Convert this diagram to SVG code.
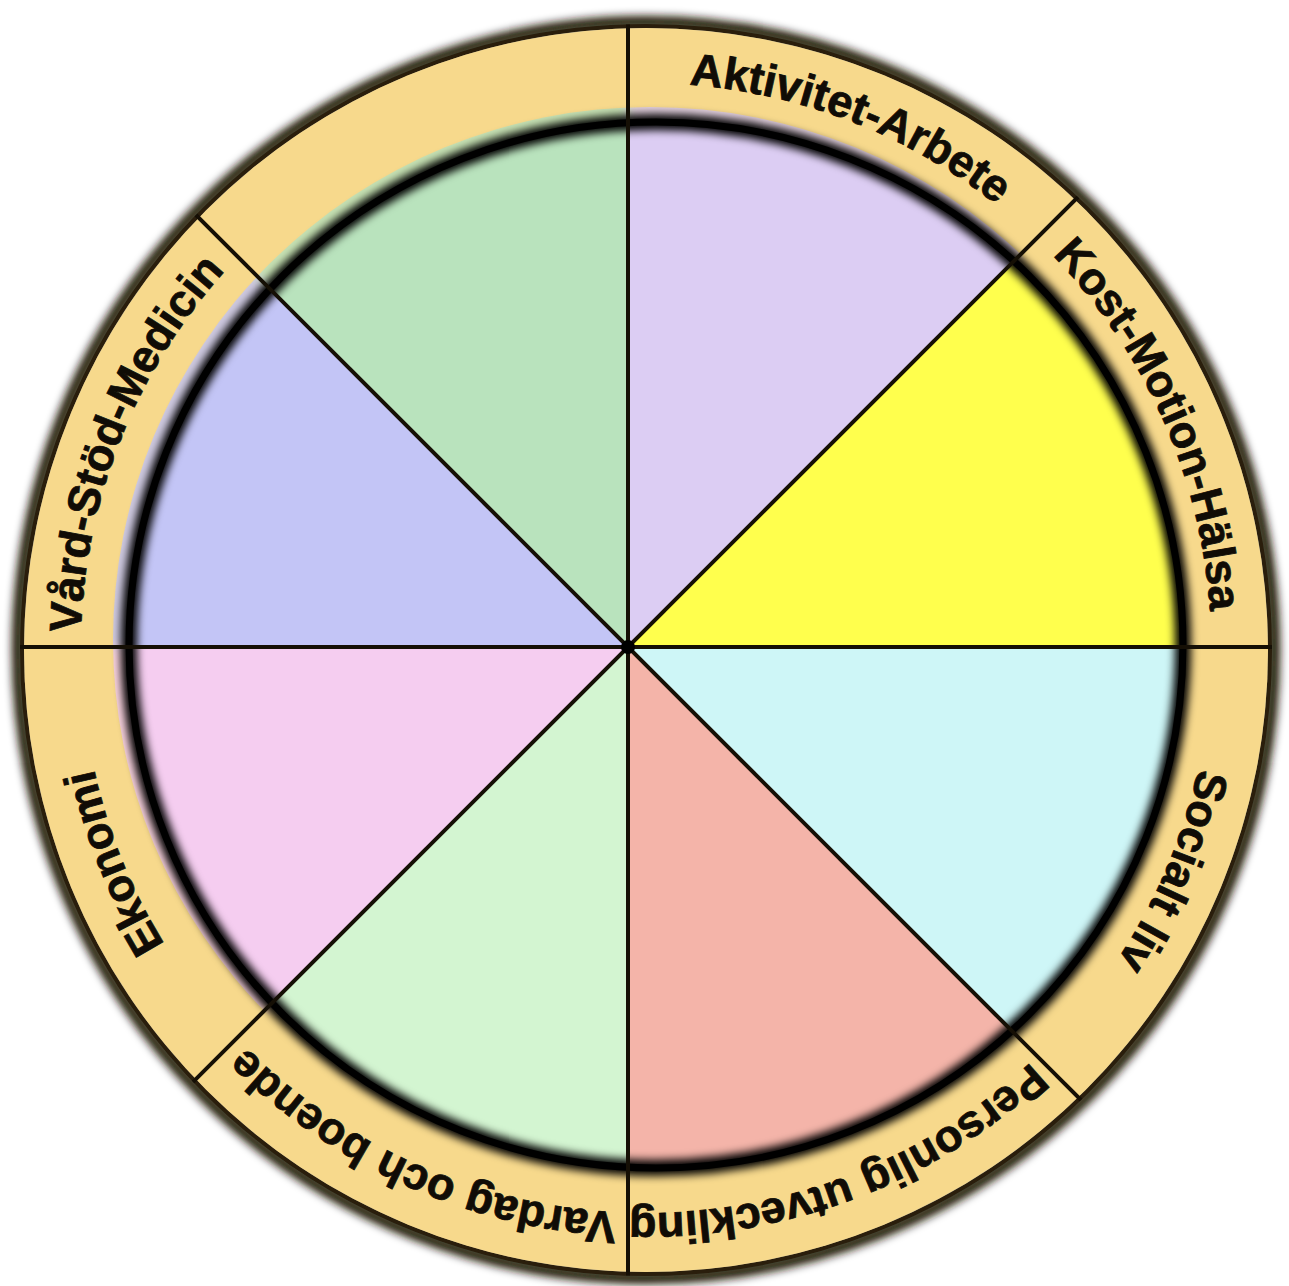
<svg xmlns="http://www.w3.org/2000/svg" xmlns:xlink="http://www.w3.org/1999/xlink" width="1289" height="1286" viewBox="0 0 1289 1286">
<style>
.lbl{font-family:"Liberation Sans",Arial,sans-serif;font-weight:bold;font-size:45px;fill:#100c06;stroke:#100c06;stroke-width:0.8px}
.spoke{stroke:#150f05;stroke-width:4;fill:none}
</style>
<defs>
<filter id="blur3" x="-10%" y="-10%" width="120%" height="120%"><feGaussianBlur stdDeviation="3"/></filter>
<filter id="blur4" x="-10%" y="-10%" width="120%" height="120%"><feGaussianBlur stdDeviation="4"/></filter>
<filter id="blur6" x="-10%" y="-10%" width="120%" height="120%"><feGaussianBlur stdDeviation="6"/></filter>
<clipPath id="inner"><ellipse cx="656" cy="645" rx="527" ry="523"/></clipPath>
<clipPath id="innerHalo"><ellipse cx="650" cy="640" rx="537" ry="533"/></clipPath>
<clipPath id="outer"><circle cx="646" cy="650" r="626"/></clipPath>
<path id="ringpath" d="M 646 83 A 565 565 0 1 1 646 1213 A 565 565 0 1 1 646 83"/>
</defs>
<rect width="1289" height="1286" fill="#ffffff"/>
<!-- outer ring -->
<circle cx="646" cy="650" r="628" fill="none" stroke="#1a1206" stroke-width="12" filter="url(#blur4)"/>
<circle cx="646" cy="650" r="624" fill="none" stroke="#2a1e0c" stroke-width="4"/>
<circle cx="646" cy="650" r="622" fill="#f7d98c"/>
<!-- colored halo -->
<g clip-path="url(#innerHalo)" filter="url(#blur6)" opacity="0.8">
<polygon points="628,647 628,-353 -372,-353" fill="#b9e3bd"/>
<polygon points="628,647 628,-353 1628,-353" fill="#dccdf3"/>
<polygon points="628,647 -372,1647 -372,647" fill="#f5cdf0"/>
<polygon points="628,647 -372,647 -372,-353" fill="#c3c5f6"/>
</g>
<g id="seg-top-left"><polygon clip-path="url(#inner)" points="628,647 628,-353 -372,-353" fill="#b9e3bd"/></g>
<g id="seg-aktivitet">
<polygon clip-path="url(#inner)" points="628,647 628,-353 1628,-353" fill="#dccdf3"/>
<text class="lbl"><textPath href="#ringpath" xlink:href="#ringpath" startOffset="211" text-anchor="middle">Aktivitet-Arbete</textPath></text>
</g>
<g id="seg-kost">
<polygon clip-path="url(#inner)" points="628,647 1628,-353 1628,647" fill="#ffff4d"/>
<text class="lbl"><textPath href="#ringpath" xlink:href="#ringpath" startOffset="652" text-anchor="middle">Kost-Motion-Hälsa</textPath></text>
</g>
<g id="seg-socialt">
<polygon clip-path="url(#inner)" points="628,647 1628,647 1628,1647" fill="#cef6f7"/>
<text class="lbl"><textPath href="#ringpath" xlink:href="#ringpath" startOffset="1114" text-anchor="middle">Socialt liv</textPath></text>
</g>
<g id="seg-personlig">
<polygon clip-path="url(#inner)" points="628,647 1628,1647 628,1647" fill="#f4b4a9"/>
<text class="lbl"><textPath href="#ringpath" xlink:href="#ringpath" startOffset="1572" text-anchor="middle">Personlig utveckling</textPath></text>
</g>
<g id="seg-vardag">
<polygon clip-path="url(#inner)" points="628,647 628,1647 -372,1647" fill="#d3f5d1"/>
<text class="lbl"><textPath href="#ringpath" xlink:href="#ringpath" startOffset="2012" text-anchor="middle">Vardag och boende</textPath></text>
</g>
<g id="seg-ekonomi">
<polygon clip-path="url(#inner)" points="628,647 -372,1647 -372,647" fill="#f5cdf0"/>
<text class="lbl"><textPath href="#ringpath" xlink:href="#ringpath" startOffset="2446" text-anchor="middle">Ekonomi</textPath></text>
</g>
<g id="seg-vard">
<polygon clip-path="url(#inner)" points="628,647 -372,647 -372,-353" fill="#c3c5f6"/>
<text class="lbl"><textPath href="#ringpath" xlink:href="#ringpath" startOffset="2877" text-anchor="middle">Vård-Stöd-Medicin</textPath></text>
</g>
<!-- inner border -->
<ellipse cx="656" cy="645" rx="527" ry="523" fill="none" stroke="#000000" stroke-width="16" filter="url(#blur4)"/>
<ellipse cx="656" cy="645" rx="527" ry="523" fill="none" stroke="#000000" stroke-width="7"/>
<!-- spokes -->
<g id="connectors" clip-path="url(#outer)">
<line class="spoke" x1="628" y1="-353" x2="628" y2="1647"/>
<line class="spoke" x1="-372" y1="647" x2="1628" y2="647"/>
<line class="spoke" x1="-372" y1="-353" x2="1628" y2="1647"/>
<line class="spoke" x1="-372" y1="1647" x2="1628" y2="-353"/>
<circle cx="628" cy="647" r="7" fill="#000"/>
</g>
</svg>
